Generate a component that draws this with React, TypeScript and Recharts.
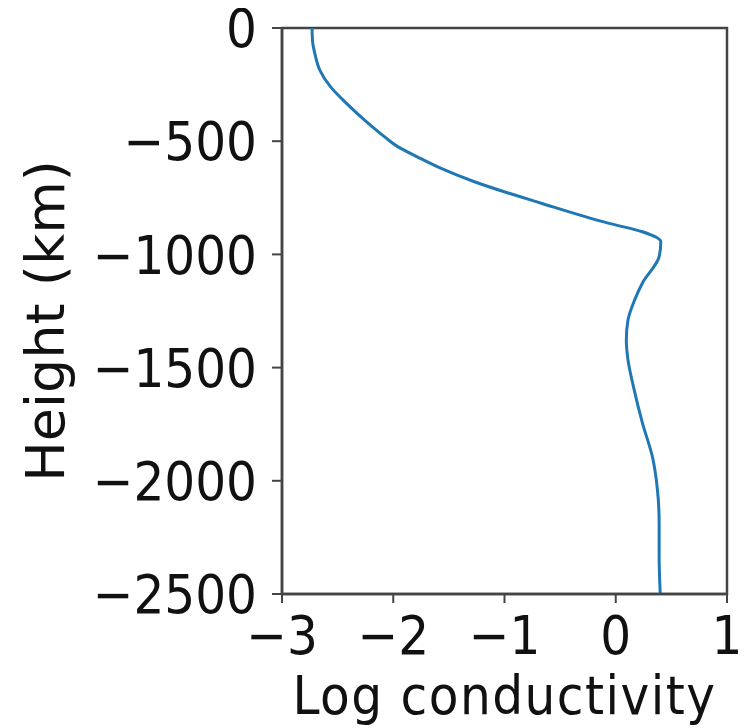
import React from "react";
import { LineChart, Line, XAxis, YAxis, ReferenceArea, Label } from "recharts";

const heights = [0, -60, -112, -186, -259, -333, -406, -480, -524, -570, -620, -679, -774, -863, -900, -944, -1010, -1126, -1201, -1290, -1378, -1466, -1586, -1745, -1895, -2041, -2187, -2336, -2500];
const conductivity = [-2.73, -2.725, -2.705, -2.66, -2.565, -2.42, -2.26, -2.08, -1.96, -1.78, -1.57, -1.27, -0.67, -0.06, 0.24, 0.405, 0.39, 0.24, 0.17, 0.11, 0.095, 0.11, 0.16, 0.24, 0.33, 0.375, 0.39, 0.39, 0.4];
const xTicks = [-3, -2, -1, 0, 1];
const yTicks = [0, -500, -1000, -1500, -2000, -2500];
const xLabel = "Log conductivity";
const yLabel = "Height (km)";

const data = heights.map((h, i) => ({ h, c: conductivity[i] }));

const FONT_C = "'DejaVu Sans Condensed', 'DejaVu Sans', sans-serif";
const FONT = "'DejaVu Sans', sans-serif";
const fmt = (v: number) => (v < 0 ? "\u2212" + Math.abs(v) : String(v));
const AXIS = "#444";

const tickStyle = { fill: "#111", fontSize: 54, fontFamily: FONT_C, fontStretch: "condensed" as const };

export default function App() {
  return (
    <div style={{ width: 739, height: 720, background: "#fff" }}>
      <LineChart
        width={739}
        height={720}
        data={data}
        layout="vertical"
        margin={{ top: 20, right: 20, left: 0, bottom: 74 }}
      >
        <XAxis
          type="number"
          dataKey="c"
          domain={[-3, 1]}
          ticks={xTicks}
          interval={0}
          tickFormatter={fmt}
          height={60}
          tickSize={9}
          tickMargin={13}
          tick={tickStyle}
          axisLine={{ stroke: AXIS, strokeWidth: 2.5 }}
          tickLine={{ stroke: AXIS, strokeWidth: 2 }}
          allowDataOverflow
        >
          <Label
            content={(props: any) => {
              const vb = props.viewBox || {};
              return (
                <text
                  x={vb.x + vb.width / 2}
                  y={706}
                  textAnchor="middle"
                  fontSize={54}
                  fontFamily={FONT_C}
                  style={{ fontStretch: "condensed" }}
                  letterSpacing={1.5}
                  fill="#111"
                >
                  {xLabel}
                </text>
              );
            }}
          />
        </XAxis>
        <YAxis
          type="number"
          dataKey="h"
          domain={[-2500, 0]}
          reversed
          ticks={yTicks}
          interval={0}
          tickFormatter={fmt}
          width={274}
          tickSize={10}
          tickMargin={15}
          tick={tickStyle}
          axisLine={{ stroke: AXIS, strokeWidth: 2.5 }}
          tickLine={{ stroke: AXIS, strokeWidth: 2 }}
          allowDataOverflow
        >
          <Label
            content={(props: any) => {
              const vb = props.viewBox || {};
              const cy = vb.y + vb.height / 2 + 10;
              return (
                <text
                  x={56}
                  y={cy}
                  transform={`rotate(-90, 56, ${cy})`}
                  textAnchor="middle"
                  fontSize={54}
                  fontFamily={FONT}
                  fill="#111"
                >
                  {yLabel}
                </text>
              );
            }}
          />
        </YAxis>
        <ReferenceArea x1={-3} x2={1} y1={-2500} y2={0} fill="none" stroke={AXIS} strokeWidth={2.5} />
        <Line
          type="monotone"
          dataKey="c"
          stroke="#1f77b4"
          strokeWidth={3}
          dot={false}
          isAnimationActive={false}
        />
      </LineChart>
    </div>
  );
}
